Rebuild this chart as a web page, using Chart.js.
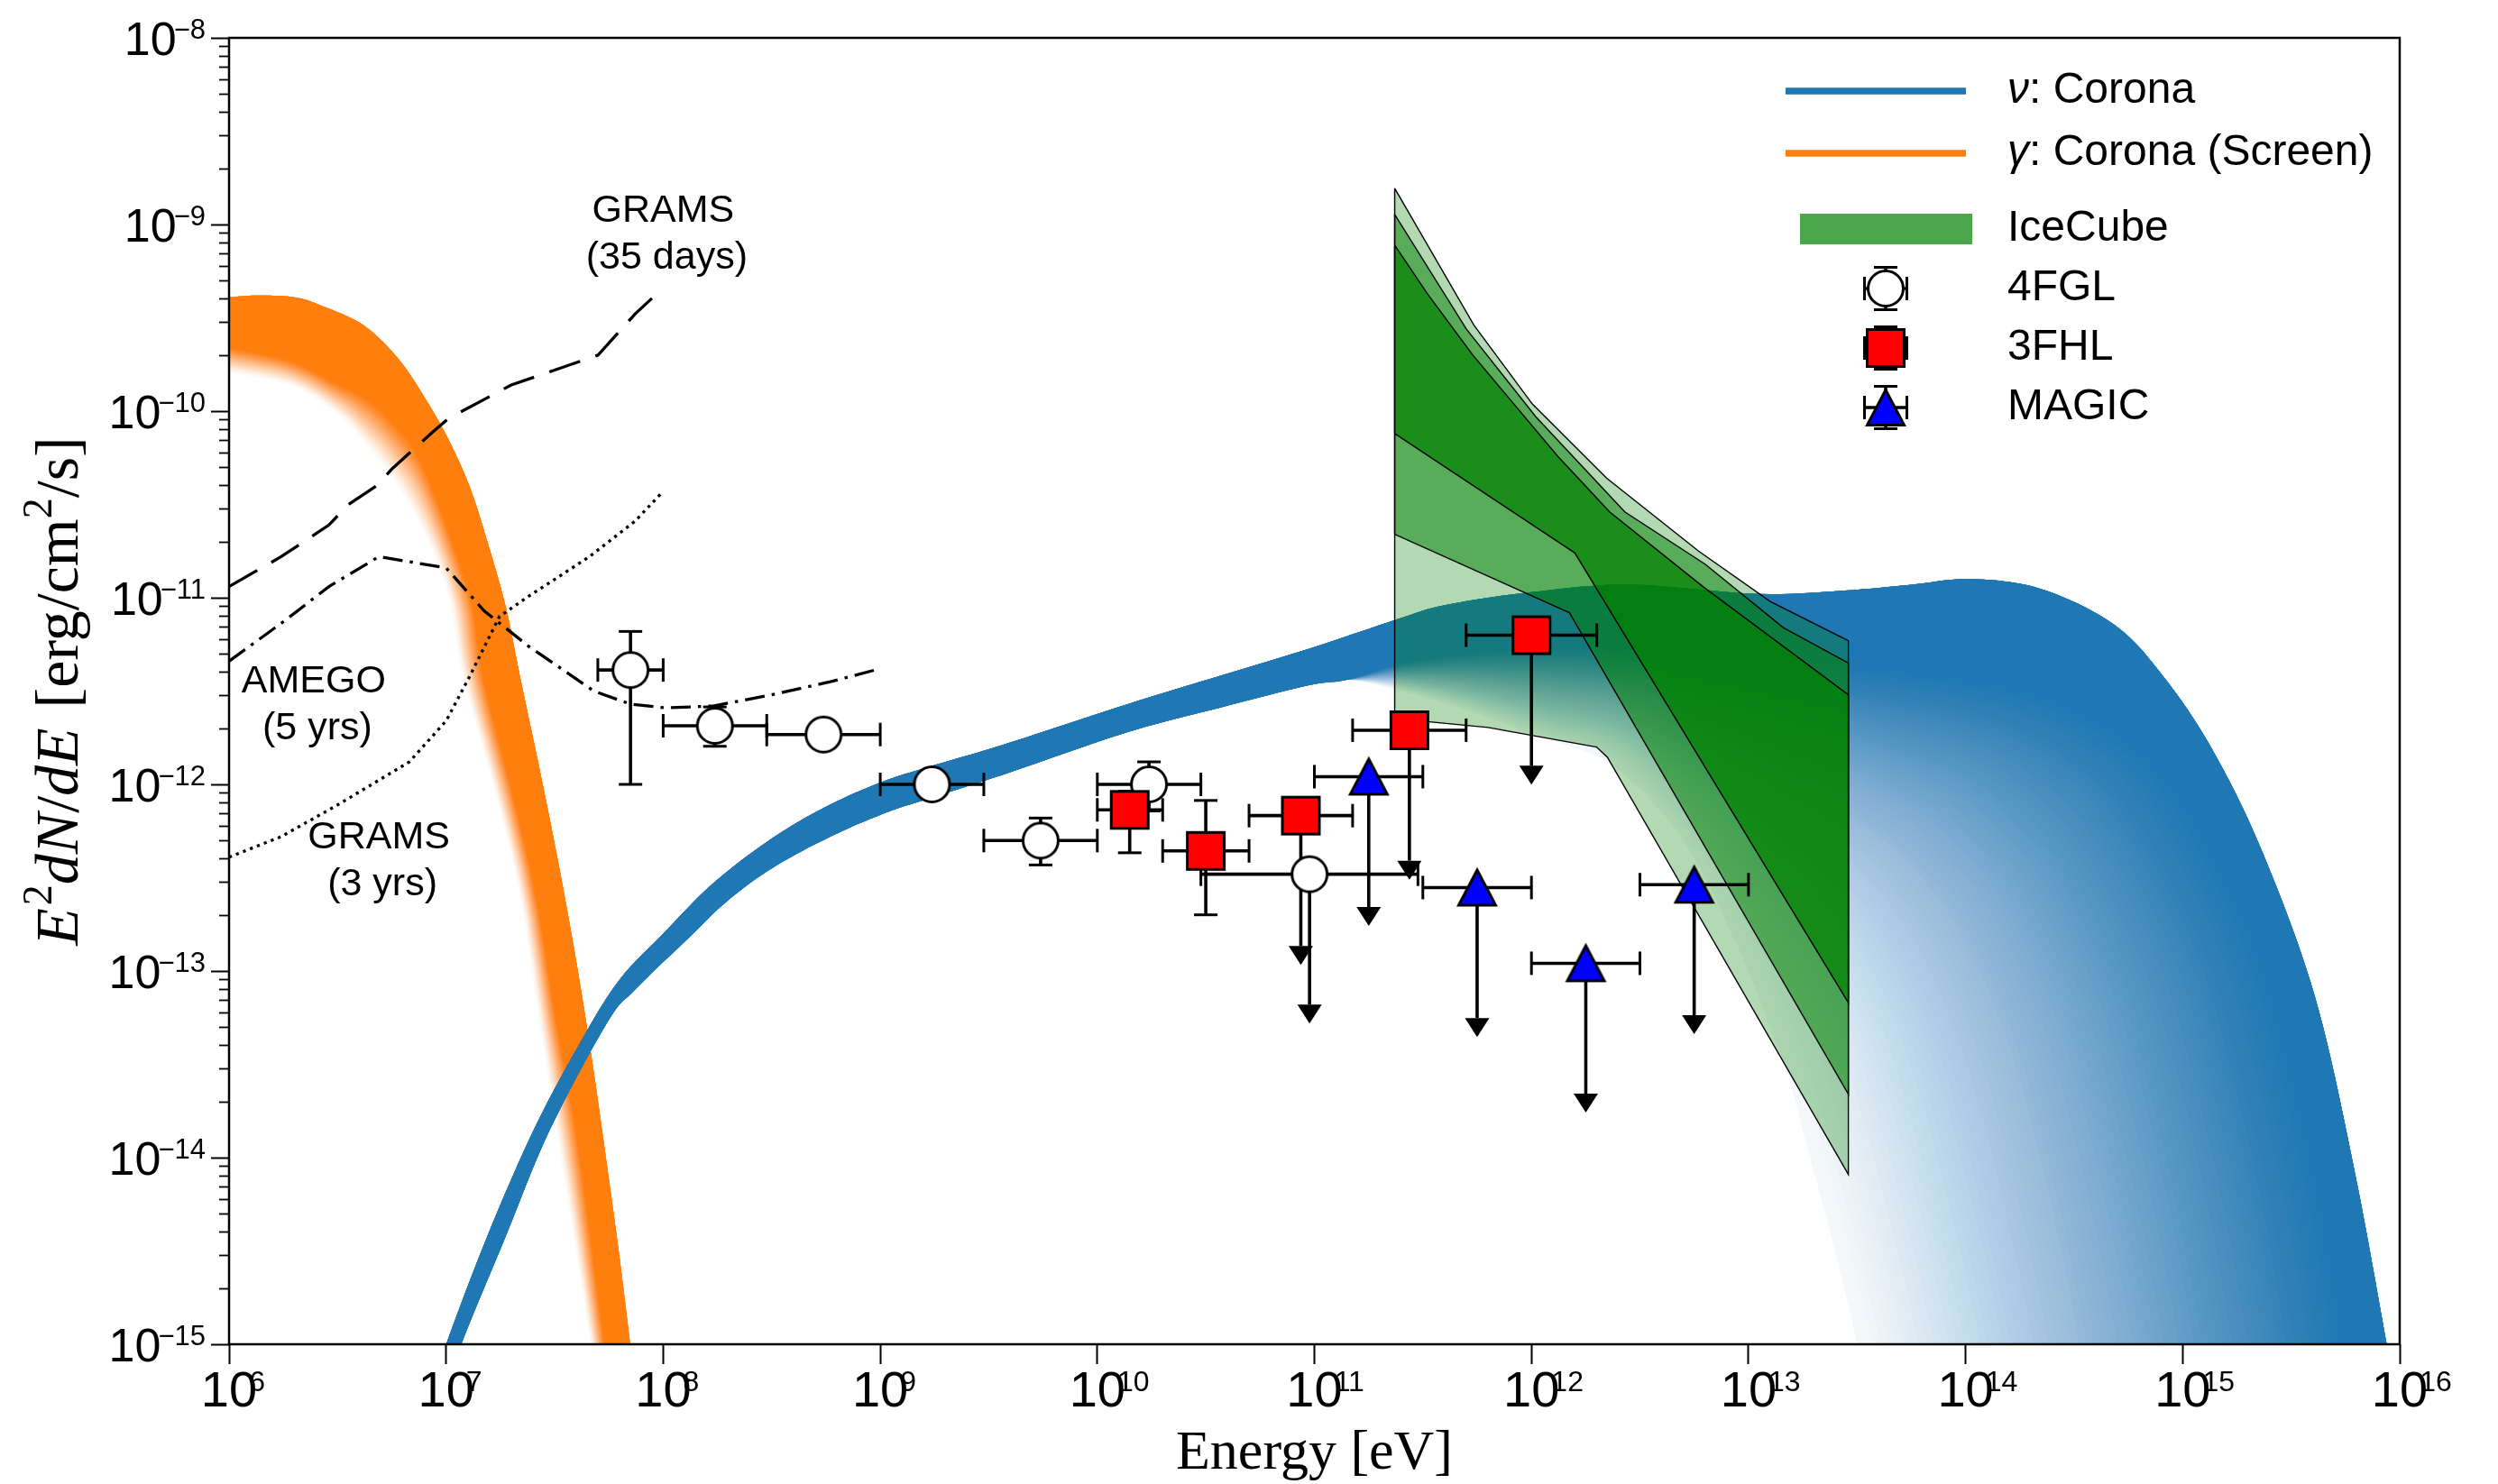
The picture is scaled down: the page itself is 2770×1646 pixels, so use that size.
<!DOCTYPE html>
<html lang="en">
<head>
<meta charset="utf-8">
<title>Corona neutrino and gamma-ray spectra</title>
<script src="https://cdn.jsdelivr.net/npm/chart.js@4.4.1/dist/chart.umd.min.js"></script>
<style>
  html, body { margin: 0; padding: 0; background: #ffffff; }
  #frame { width: 2770px; height: 1646px; }
  canvas { display: block; }
</style>
</head>
<body>
<div id="frame"><canvas id="sed" width="2770" height="1646"></canvas></div>
<script>
// ---------------------------------------------------------------------------
// Axis decades (tick labels are 10^p)
// ---------------------------------------------------------------------------
const xTickPowers = [6, 7, 8, 9, 10, 11, 12, 13, 14, 15, 16];
const yTickPowers = [-15, -14, -13, -12, -11, -10, -9, -8];

// ---------------------------------------------------------------------------
// Model bands, as decades: log10(E / eV) and log10(E^2 dN/dE / erg cm^-2 s^-1)
// "top" = upper/right edge, "core" = end of the opaque part, "faint" = outer
// edge of the faded part (core and faint are listed pairwise).
// ---------------------------------------------------------------------------
const gammaTopLogE   = [6.00, 6.14, 6.30, 6.415, 6.62, 6.78, 6.90, 7.01, 7.11, 7.19, 7.275, 7.34, 7.445, 7.53, 7.607, 7.675, 7.736, 7.795, 7.848, 7.90, 7.95];
const gammaTopLogF   = [-9.39, -9.38, -9.39, -9.43, -9.54, -9.72, -9.925, -10.15, -10.41, -10.70, -11.05, -11.42, -12.00, -12.50, -13.00, -13.50, -14.00, -14.50, -15.00, -15.50, -16.00];
const gammaCoreLogE  = [6.00, 6.28, 6.49, 6.62, 6.76, 6.90, 7.109, 7.17, 7.32, 7.42, 7.51, 7.61, 7.73, 7.79];
const gammaCoreLogF  = [-9.66, -9.73, -9.85, -9.925, -10.07, -10.31, -10.986, -11.42, -12.11, -12.63, -13.28, -13.94, -15.00, -15.52];
const gammaFaintLogE = [6.00, 6.28, 6.49, 6.62, 6.76, 6.90, 7.009, 7.076, 7.24, 7.345, 7.43, 7.52, 7.665, 7.73];
const gammaFaintLogF = [-9.795, -9.862, -10.007, -10.166, -10.373, -10.66, -10.986, -11.42, -12.11, -12.63, -13.28, -13.94, -15.00, -15.52];

const nuTopLogE   = [6.95, 7.00, 7.19, 7.40, 7.60, 7.79, 8.00, 8.23, 8.50, 8.75, 9.00, 9.24, 9.56, 10.14, 10.56, 10.97, 11.37, 11.60, 12.00, 12.45, 13.05, 13.46, 13.75, 14.02, 14.34, 14.68, 14.91, 15.14, 15.37, 15.61, 15.79, 15.94, 16.00];
const nuTopLogF   = [-15.2, -15.0, -14.42, -13.86, -13.42, -13.06, -12.80, -12.53, -12.29, -12.12, -11.99, -11.90, -11.79, -11.57, -11.42, -11.275, -11.12, -11.04, -10.97, -10.93, -10.98, -10.96, -10.93, -10.90, -10.95, -11.14, -11.42, -11.82, -12.37, -13.14, -14.06, -15.00, -15.40];
const nuCoreLogE  = [7.03, 7.07, 7.275, 7.474, 7.74, 7.87, 8.12, 8.29, 8.50, 8.77, 9.03, 9.24, 9.56, 10.14, 10.56, 10.97, 11.15, 11.40, 11.70, 12.10, 12.60, 13.10, 13.60, 14.10, 14.50, 14.85, 15.10, 15.35, 15.52, 15.66, 15.76, 15.82];
const nuCoreLogF  = [-15.2, -15.0, -14.42, -13.86, -13.28, -13.10, -12.82, -12.63, -12.45, -12.28, -12.15, -12.07, -11.95, -11.72, -11.59, -11.47, -11.44, -11.35, -11.30, -11.27, -11.28, -11.33, -11.38, -11.45, -11.58, -11.85, -12.25, -12.85, -13.55, -14.30, -15.00, -15.40];
const nuFaintLogE = [7.03, 7.07, 7.275, 7.474, 7.74, 7.87, 8.12, 8.29, 8.50, 8.77, 9.03, 9.24, 9.56, 10.14, 10.56, 10.97, 11.15, 11.40, 11.70, 12.05, 12.35, 12.63, 12.80, 12.91, 13.00, 13.10, 13.18, 13.26, 13.33, 13.42, 13.50, 13.56];
const nuFaintLogF = [-15.2, -15.0, -14.42, -13.86, -13.28, -13.10, -12.82, -12.63, -12.45, -12.28, -12.15, -12.07, -11.95, -11.72, -11.59, -11.47, -11.44, -11.50, -11.60, -11.75, -11.88, -12.19, -12.50, -12.77, -13.00, -13.30, -13.55, -13.90, -14.20, -14.60, -15.00, -15.40];

// ---------------------------------------------------------------------------
// MeV instrument sensitivities (decades)
// ---------------------------------------------------------------------------
const gramsDaysLogE = [6.00, 6.24, 6.46, 6.55, 6.68, 6.75, 6.94, 7.01, 7.30, 7.70, 7.87, 8.00];
const gramsDaysLogF = [-10.94, -10.78, -10.61, -10.50, -10.40, -10.31, -10.11, -10.04, -9.86, -9.70, -9.48, -9.34];
const amegoLogE     = [6.00, 6.26, 6.46, 6.69, 7.00, 7.175, 7.38, 7.58, 7.68, 7.85, 8.01, 8.23, 8.50, 8.77, 9.00];
const amegoLogF     = [-11.34, -11.12, -10.94, -10.78, -10.84, -11.07, -11.26, -11.42, -11.50, -11.57, -11.59, -11.58, -11.52, -11.45, -11.38];
const gramsYrsLogE  = [6.00, 6.24, 6.50, 6.83, 7.00, 7.109, 7.246, 7.383, 7.66, 7.87, 8.00];
const gramsYrsLogF  = [-12.39, -12.28, -12.11, -11.88, -11.66, -11.42, -11.10, -10.99, -10.78, -10.59, -10.43];

// ---------------------------------------------------------------------------
// IceCube contours (decades): outer, middle and inner regions
// ---------------------------------------------------------------------------
const icOuterUpLogE = [11.37, 11.735, 12.005, 12.346, 12.77, 13.10, 13.46];
const icOuterUpLogF = [-8.806, -9.539, -9.963, -10.359, -10.75, -11.02, -11.23];
const icOuterLoLogE = [11.37, 11.80, 12.30, 12.35, 13.46];
const icOuterLoLogF = [-11.647, -11.695, -11.80, -11.855, -14.09];
const icMidUpLogE   = [11.37, 11.70, 12.02, 12.43, 12.80, 13.16, 13.46];
const icMidUpLogF   = [-8.946, -9.56, -10.03, -10.54, -10.82, -11.16, -11.35];
const icMidLoLogE   = [11.37, 12.175, 13.46];
const icMidLoLogF   = [-10.66, -11.08, -13.66];
const icInUpLogE    = [11.37, 11.52, 11.73, 12.12, 12.36, 12.79, 13.46];
const icInUpLogF    = [-9.11, -9.37, -9.70, -10.24, -10.54, -10.94, -11.52];
const icInLoLogE    = [11.37, 12.20, 13.46];
const icInLoLogF    = [-10.12, -10.76, -13.17];

// ---------------------------------------------------------------------------
// Gamma-ray data (E in eV, flux in erg cm^-2 s^-1); null = no vertical bar
// ---------------------------------------------------------------------------
const fglE   = [7.07e7, 1.73e8, 5.48e8, 1.73e9, 5.48e9, 1.73e10, 9.5e10];
const fglELo = [5.0e7, 1.0e8, 3.0e8, 1.0e9, 3.0e9, 1.0e10, 3.0e10];
const fglEHi = [1.0e8, 3.0e8, 1.0e9, 3.0e9, 1.0e10, 3.0e10, 3.0e11];
const fglF   = [4.1e-12, 2.06e-12, 1.85e-12, 1.0e-12, 5.0e-13, 1.0e-12, 3.3e-13];
const fglFLo = [1.0e-12, 1.6e-12, null, null, 3.7e-13, 7.2e-13, null];
const fglFHi = [6.6e-12, 2.6e-12, null, null, 6.6e-13, 1.32e-12, null];
const fglUL  = [false, false, false, false, false, false, true];

const fhlE   = [1.41e10, 3.16e10, 8.66e10, 2.74e11, 1.0e12];
const fhlELo = [1.0e10, 2.0e10, 5.0e10, 1.5e11, 5.0e11];
const fhlEHi = [2.0e10, 5.0e10, 1.5e11, 5.0e11, 2.0e12];
const fhlF   = [7.3e-13, 4.4e-13, 6.8e-13, 1.95e-12, 6.3e-12];
const fhlFLo = [4.3e-13, 2.0e-13, null, null, null];
const fhlFHi = [9.2e-13, 8.2e-13, null, null, null];
const fhlUL  = [false, false, true, true, true];

const magicE   = [1.78e11, 5.62e11, 1.78e12, 5.62e12];
const magicELo = [1.0e11, 3.16e11, 1.0e12, 3.16e12];
const magicEHi = [3.16e11, 1.0e12, 3.16e12, 1.0e13];
const magicF   = [1.1e-12, 2.8e-13, 1.1e-13, 2.9e-13];
const magicFLo = [null, null, null, null];
const magicFHi = [null, null, null, null];
const magicUL  = [true, true, true, true];

// ---------------------------------------------------------------------------
// Styling
// ---------------------------------------------------------------------------
const C_NU = '31,119,180';
const C_GAMMA = '255,127,14';
const C_IC = '0,128,0';
const FONT_SANS = '"Liberation Sans", Arimo, "DejaVu Sans", sans-serif';
const FONT_SERIF = '"Liberation Serif", Tinos, "DejaVu Serif", serif';
const ERR_LW = 3.6, CAP_LW = 3, CAP_HALF = 13, CARET_HALF = 13.5, CARET_H = 21;
const UL_BAR = 0.8;   // upper limits: downward bar of 80 % of the value

const toPts = (le, lf) => le.map((e, i) => ({ x: Math.pow(10, e), y: Math.pow(10, lf[i]) }));
const shape = (upE, upF, loE, loF) => {
  const up = toPts(upE, upF);
  const lo = toPts(loE, loF).reverse();
  return [...up, ...lo, up[0]];
};
const pairs = (E, F) => E.map((e, i) => ({ x: e, y: F[i] }));

function makeMarker(kind) {
  const s = 54, c = s / 2;
  const cv = document.createElement('canvas');
  cv.width = s; cv.height = s;
  const g = cv.getContext('2d');
  g.lineWidth = 3; g.strokeStyle = '#000'; g.lineJoin = 'miter';
  g.beginPath();
  if (kind === 'circle') {
    g.arc(c, c, 19.5, 0, Math.PI * 2);
    g.fillStyle = '#ffffff';
  } else if (kind === 'square') {
    g.rect(c - 20.5, c - 20.5, 41, 41);
    g.fillStyle = '#ff0000';
  } else {
    g.moveTo(c, c - 19.5);
    g.lineTo(c + 20.5, c + 19.5);
    g.lineTo(c - 20.5, c + 19.5);
    g.closePath();
    g.fillStyle = '#0000ff';
  }
  g.fill(); g.stroke();
  return cv;
}
const markCircle = makeMarker('circle');
const markSquare = makeMarker('square');
const markTriangle = makeMarker('triangle');

// dataset indices
const I_GTOP = 0, I_GCORE = 1, I_GFAINT = 2, I_NTOP = 3, I_NCORE = 4, I_NFAINT = 5, I_FGL = 12;

const edge = (data) => ({ data, showLine: false, pointRadius: 0, pointHoverRadius: 0, pointHitRadius: 0, order: 100 });
const sens = (label, data, dash) => ({
  label, data, showLine: true, borderColor: '#000', borderWidth: 3.3, borderDash: dash,
  pointRadius: 0, pointHitRadius: 0, fill: false, order: 60
});
const contour = (label, data, a, order) => ({
  label, data, showLine: true, fill: 'shape', backgroundColor: `rgba(${C_IC},${a})`,
  borderColor: '#000', borderWidth: 1.4, pointRadius: 0, pointHitRadius: 0, order
});
const marks = (label, data, img, order) => ({
  label, data, showLine: false, pointStyle: img, pointRadius: 21, pointHitRadius: 0, order
});

const datasets = [
  edge(toPts(gammaTopLogE, gammaTopLogF)),
  edge(toPts(gammaCoreLogE, gammaCoreLogF)),
  edge(toPts(gammaFaintLogE, gammaFaintLogF)),
  edge(toPts(nuTopLogE, nuTopLogF)),
  edge(toPts(nuCoreLogE, nuCoreLogF)),
  edge(toPts(nuFaintLogE, nuFaintLogF)),
  sens('GRAMS (35 days)', toPts(gramsDaysLogE, gramsDaysLogF), [36, 18]),
  sens('AMEGO (5 yrs)', toPts(amegoLogE, amegoLogF), [22, 8, 3.5, 8]),
  sens('GRAMS (3 yrs)', toPts(gramsYrsLogE, gramsYrsLogF), [3.3, 5]),
  contour('IceCube outer', shape(icOuterUpLogE, icOuterUpLogF, icOuterLoLogE, icOuterLoLogF), 0.3, 42),
  contour('IceCube middle', shape(icMidUpLogE, icMidUpLogF, icMidLoLogE, icMidLoLogF), 0.5, 41),
  contour('IceCube inner', shape(icInUpLogE, icInUpLogF, icInLoLogE, icInLoLogF), 0.7, 40),
  marks('4FGL', pairs(fglE, fglF), markCircle, 3),
  marks('3FHL', pairs(fhlE, fhlF), markSquare, 2),
  marks('MAGIC', pairs(magicE, magicF), markTriangle, 1)
];

const barSets = [
  { E: fglE, ELo: fglELo, EHi: fglEHi, F: fglF, FLo: fglFLo, FHi: fglFHi, UL: fglUL },
  { E: fhlE, ELo: fhlELo, EHi: fhlEHi, F: fhlF, FLo: fhlFLo, FHi: fhlFHi, UL: fhlUL },
  { E: magicE, ELo: magicELo, EHi: magicEHi, F: magicF, FLo: magicFLo, FHi: magicFHi, UL: magicUL }
];

// text labels placed next to the sensitivity curves (decades of the first line)
const curveNotes = [
  { lines: ['GRAMS', '(35 days)'], logE: 8.00, logF: -8.93 },
  { lines: ['AMEGO', '(5 yrs)'], logE: 6.39, logF: -11.45 },
  { lines: ['GRAMS', '(3 yrs)'], logE: 6.69, logF: -12.285 }
];

// ---------------------------------------------------------------------------
// Drawing helpers
// ---------------------------------------------------------------------------
function seg(ctx, x0, y0, x1, y1, lw) {
  ctx.lineWidth = lw;
  ctx.beginPath(); ctx.moveTo(x0, y0); ctx.lineTo(x1, y1); ctx.stroke();
}

// Catmull-Rom curve through the pixel positions of a band edge
function smoothEdge(pts, sub) {
  const n = pts.length, out = [];
  for (let i = 0; i < n - 1; i++) {
    const p0 = pts[Math.max(0, i - 1)], p1 = pts[i], p2 = pts[i + 1], p3 = pts[Math.min(n - 1, i + 2)];
    for (let s = 0; s < sub; s++) {
      const t = s / sub, t2 = t * t, t3 = t2 * t;
      const f = (a, b, c, d) => 0.5 * (2 * b + (-a + c) * t + (2 * a - 5 * b + 4 * c - d) * t2 + (-a + 3 * b - 3 * c + d) * t3);
      out.push({ x: f(p0.x, p1.x, p2.x, p3.x), y: f(p0.y, p1.y, p2.y, p3.y) });
    }
  }
  out.push(pts[n - 1]);
  return out;
}

// Opaque core between the top edge and the core line, then a fade out to the
// faint edge built from stacked translucent layers.
function shadeBand(ctx, area, top, core, faint, rgb, alphaAt, steps) {
  top = smoothEdge(top, 10);
  core = smoothEdge(core, 10);
  faint = smoothEdge(faint, 10);
  const level = t => core.map((c, i) => ({ x: c.x + (faint[i].x - c.x) * t, y: c.y + (faint[i].y - c.y) * t }));
  const region = inner => {
    ctx.beginPath();
    top.forEach((p, i) => (i ? ctx.lineTo(p.x, p.y) : ctx.moveTo(p.x, p.y)));
    for (let i = inner.length - 1; i >= 0; i--) ctx.lineTo(inner[i].x, inner[i].y);
    ctx.closePath();
    ctx.fill();
  };
  ctx.save();
  ctx.beginPath();
  ctx.rect(area.left, area.top, area.right - area.left, area.bottom - area.top);
  ctx.clip();
  ctx.fillStyle = `rgb(${rgb})`;
  let covered = 0;
  for (let k = steps; k >= 0; k--) {
    const target = k === 0 ? 1 : alphaAt(k / steps);
    ctx.globalAlpha = Math.min(1, Math.max(0, (target - covered) / (1 - covered)));
    region(level(k / steps));
    covered = target;
  }
  ctx.restore();
}

function drawBars(ctx, xs, ys, set) {
  set.E.forEach((e, i) => {
    const x = xs.getPixelForValue(e);
    const y = ys.getPixelForValue(set.F[i]);
    const xl = xs.getPixelForValue(set.ELo[i]);
    const xh = xs.getPixelForValue(set.EHi[i]);
    seg(ctx, xl, y, xh, y, ERR_LW);
    seg(ctx, xl, y - CAP_HALF, xl, y + CAP_HALF, CAP_LW);
    seg(ctx, xh, y - CAP_HALF, xh, y + CAP_HALF, CAP_LW);
    if (set.UL[i]) {
      const yb = ys.getPixelForValue(set.F[i] * (1 - UL_BAR));
      seg(ctx, x, y, x, yb, ERR_LW);
      ctx.beginPath();
      ctx.moveTo(x - CARET_HALF, yb); ctx.lineTo(x + CARET_HALF, yb); ctx.lineTo(x, yb + CARET_H);
      ctx.closePath(); ctx.fill();
    } else if (set.FLo[i] !== null) {
      const yl = ys.getPixelForValue(set.FLo[i]);
      const yh = ys.getPixelForValue(set.FHi[i]);
      seg(ctx, x, yl, x, yh, ERR_LW);
      seg(ctx, x - CAP_HALF, yl, x + CAP_HALF, yl, CAP_LW);
      seg(ctx, x - CAP_HALF, yh, x + CAP_HALF, yh, CAP_LW);
    }
  });
}

function drawRich(ctx, parts, x, y) {
  let cx = x;
  parts.forEach(p => {
    ctx.font = p.font;
    ctx.fillText(p.text, cx, y + (p.dy || 0));
    cx += ctx.measureText(p.text).width + (p.gap || 0);
  });
}
function richWidth(ctx, parts) {
  return parts.reduce((s, p) => { ctx.font = p.font; return s + ctx.measureText(p.text).width + (p.gap || 0); }, 0);
}

function drawTickLabels(ctx, area, xs, ys) {
  ctx.save();
  ctx.fillStyle = '#000';
  ctx.textBaseline = 'alphabetic';
  // y axis: 10^-n
  const right = area.left - 26;
  yTickPowers.forEach(p => {
    const y = ys.getPixelForValue(Math.pow(10, p));
    const sup = (p < 0 ? '\u2212' : '') + Math.abs(p);
    ctx.textAlign = 'right';
    ctx.font = `31px ${FONT_SANS}`;
    const w = ctx.measureText(sup).width;
    ctx.fillText(sup, right, y + 1);
    ctx.font = `52px ${FONT_SANS}`;
    ctx.fillText('10', right - w + 3, y + 18.5);
  });
  // x axis: 10^n
  const base = area.bottom + 69;
  xTickPowers.forEach(p => {
    const x = xs.getPixelForValue(Math.pow(10, p));
    ctx.font = `56px ${FONT_SANS}`;
    ctx.textAlign = 'center';
    const w = ctx.measureText('10').width;
    ctx.fillText('10', x, base);
    ctx.font = `32px ${FONT_SANS}`;
    ctx.textAlign = 'left';
    ctx.fillText(String(p), x + w / 2 - 9, base - 17);
  });
  ctx.restore();
}

function drawMinorTicks(ctx, area, ys) {
  ctx.save();
  ctx.strokeStyle = '#000';
  for (let p = yTickPowers[0]; p < yTickPowers[yTickPowers.length - 1]; p++) {
    for (let k = 2; k <= 9; k++) {
      const y = Math.round(ys.getPixelForValue(k * Math.pow(10, p))) + 0.5;
      seg(ctx, area.left - 11, y, area.left, y, 1.8);
    }
  }
  ctx.restore();
}

function drawTitles(ctx, area) {
  ctx.save();
  ctx.fillStyle = '#000';
  ctx.textBaseline = 'alphabetic';
  // x title
  ctx.textAlign = 'center';
  ctx.font = `62px ${FONT_SERIF}`;
  ctx.fillText('Energy [eV]', (area.left + area.right) / 2, area.bottom + 138);
  // y title: E^2 dN/dE [erg/cm^2/s]
  const it = `italic 68px ${FONT_SERIF}`, rm = `68px ${FONT_SERIF}`, sp = `46px ${FONT_SERIF}`;
  const parts = [
    { text: 'E', font: it, gap: 3 }, { text: '2', font: sp, dy: -29 },
    { text: 'dN', font: it }, { text: '/', font: rm }, { text: 'dE', font: it, gap: 22 },
    { text: '[erg/cm', font: rm }, { text: '2', font: sp, dy: -29 }, { text: '/s]', font: rm }
  ];
  const w = richWidth(ctx, parts);
  ctx.translate(86, (area.top + area.bottom) / 2);
  ctx.rotate(-Math.PI / 2);
  ctx.textAlign = 'left';
  drawRich(ctx, parts, -w / 2, 0);
  ctx.restore();
}

function drawNotes(ctx, xs, ys) {
  ctx.save();
  ctx.fillStyle = '#000';
  ctx.font = `43px ${FONT_SANS}`;
  ctx.textAlign = 'center';
  ctx.textBaseline = 'middle';
  curveNotes.forEach(n => {
    const x = xs.getPixelForValue(Math.pow(10, n.logE));
    const y = ys.getPixelForValue(Math.pow(10, n.logF));
    n.lines.forEach((t, i) => ctx.fillText(t, x + (i ? 4 : 0), y + i * 52));
  });
  ctx.restore();
}

function drawLegend(ctx, area) {
  const hx0 = area.right - 681, hx1 = area.right - 481, mx = area.right - 570, tx = area.right - 435;
  const rowY = [101, 170, 254, 320, 386, 452];
  ctx.save();
  ctx.lineCap = 'butt';
  ctx.strokeStyle = `rgb(${C_NU})`;
  seg(ctx, hx0, rowY[0], hx1, rowY[0], 7.5);
  ctx.strokeStyle = `rgb(${C_GAMMA})`;
  seg(ctx, hx0, rowY[1], hx1, rowY[1], 7.5);
  ctx.fillStyle = `rgba(${C_IC},0.7)`;
  ctx.fillRect(hx0 + 16, rowY[2] - 17, 191, 34);
  ctx.strokeStyle = '#000';
  ctx.fillStyle = '#000';
  [[rowY[3], markCircle], [rowY[4], markSquare], [rowY[5], markTriangle]].forEach(([y, img]) => {
    const d = 23.5;
    seg(ctx, mx - d, y, mx + d, y, ERR_LW);
    seg(ctx, mx, y - d, mx, y + d, ERR_LW);
    seg(ctx, mx - d, y - CAP_HALF, mx - d, y + CAP_HALF, CAP_LW);
    seg(ctx, mx + d, y - CAP_HALF, mx + d, y + CAP_HALF, CAP_LW);
    seg(ctx, mx - CAP_HALF, y - d, mx + CAP_HALF, y - d, CAP_LW);
    seg(ctx, mx - CAP_HALF, y + d, mx + CAP_HALF, y + d, CAP_LW);
    ctx.drawImage(img, mx - img.width / 2, y - img.height / 2);
  });
  ctx.textAlign = 'left';
  ctx.textBaseline = 'middle';
  const it = `italic 48px ${FONT_SANS}`, rm = `48px ${FONT_SANS}`;
  drawRich(ctx, [{ text: '\u03bd', font: it }, { text: ': Corona', font: rm }], tx, rowY[0]);
  drawRich(ctx, [{ text: '\u03b3', font: it }, { text: ': Corona (Screen)', font: rm }], tx, rowY[1]);
  ['IceCube', '4FGL', '3FHL', 'MAGIC'].forEach((t, i) => {
    ctx.font = rm;
    ctx.fillText(t, tx, rowY[i + 2]);
  });
  ctx.restore();
}

const sedPlugin = {
  id: 'sedLayers',
  beforeDraw(chart) {
    const { ctx, width, height } = chart;
    ctx.save();
    ctx.fillStyle = '#ffffff';
    ctx.fillRect(0, 0, width, height);
    ctx.restore();
  },
  beforeDatasetsDraw(chart) {
    const { ctx, chartArea } = chart;
    const px = i => chart.getDatasetMeta(i).data.map(p => ({ x: p.x, y: p.y }));
    shadeBand(ctx, chartArea, px(I_GTOP), px(I_GCORE), px(I_GFAINT), C_GAMMA,
      t => 0.03 + 0.97 * Math.pow(1 - t, 1.3), 36);
    shadeBand(ctx, chartArea, px(I_NTOP), px(I_NCORE), px(I_NFAINT), C_NU,
      t => 0.05 + 0.95 * Math.pow(1 - t, 1.15), 64);
  },
  beforeDatasetDraw(chart, args) {
    if (args.index !== I_FGL) return;
    const { ctx } = chart;
    ctx.save();
    ctx.strokeStyle = '#000';
    ctx.fillStyle = '#000';
    ctx.lineCap = 'butt';
    barSets.forEach(s => drawBars(ctx, chart.scales.x, chart.scales.y, s));
    ctx.restore();
  },
  afterDatasetsDraw(chart) {
    const { ctx, chartArea: a } = chart;
    const xs = chart.scales.x, ys = chart.scales.y;
    ctx.save();
    ctx.strokeStyle = '#000';
    ctx.lineWidth = 2.5;
    ctx.strokeRect(a.left, a.top, a.right - a.left, a.bottom - a.top);
    ctx.restore();
    drawMinorTicks(ctx, a, ys);
    drawTickLabels(ctx, a, xs, ys);
    drawTitles(ctx, a);
    drawNotes(ctx, xs, ys);
    drawLegend(ctx, a);
  }
};

new Chart(document.getElementById('sed'), {
  type: 'scatter',
  data: { datasets },
  options: {
    responsive: false,
    devicePixelRatio: 1,
    animation: false,
    events: [],
    layout: { padding: { left: 0, right: 109, top: 42, bottom: 0 } },
    plugins: { legend: { display: false }, tooltip: { enabled: false }, title: { display: false } },
    scales: {
      x: {
        type: 'logarithmic', position: 'bottom', min: 1e6, max: 1e16,
        afterBuildTicks: s => { s.ticks = xTickPowers.map(p => ({ value: Math.pow(10, p), major: true })); },
        afterFit: s => { s.height = 155; },
        ticks: { display: false },
        grid: { display: true, drawOnChartArea: false, drawTicks: true, tickLength: 22, tickWidth: 2, tickColor: '#000' },
        border: { display: false },
        title: { display: false }
      },
      y: {
        type: 'logarithmic', position: 'left', min: 1e-15, max: 1e-8,
        afterBuildTicks: s => { s.ticks = yTickPowers.map(p => ({ value: Math.pow(10, p), major: true })); },
        afterFit: s => { s.width = 254; },
        ticks: { display: false },
        grid: { display: true, drawOnChartArea: false, drawTicks: true, tickLength: 20, tickWidth: 2, tickColor: '#000' },
        border: { display: false },
        title: { display: false }
      }
    }
  },
  plugins: [sedPlugin]
});
</script>
</body>
</html>
